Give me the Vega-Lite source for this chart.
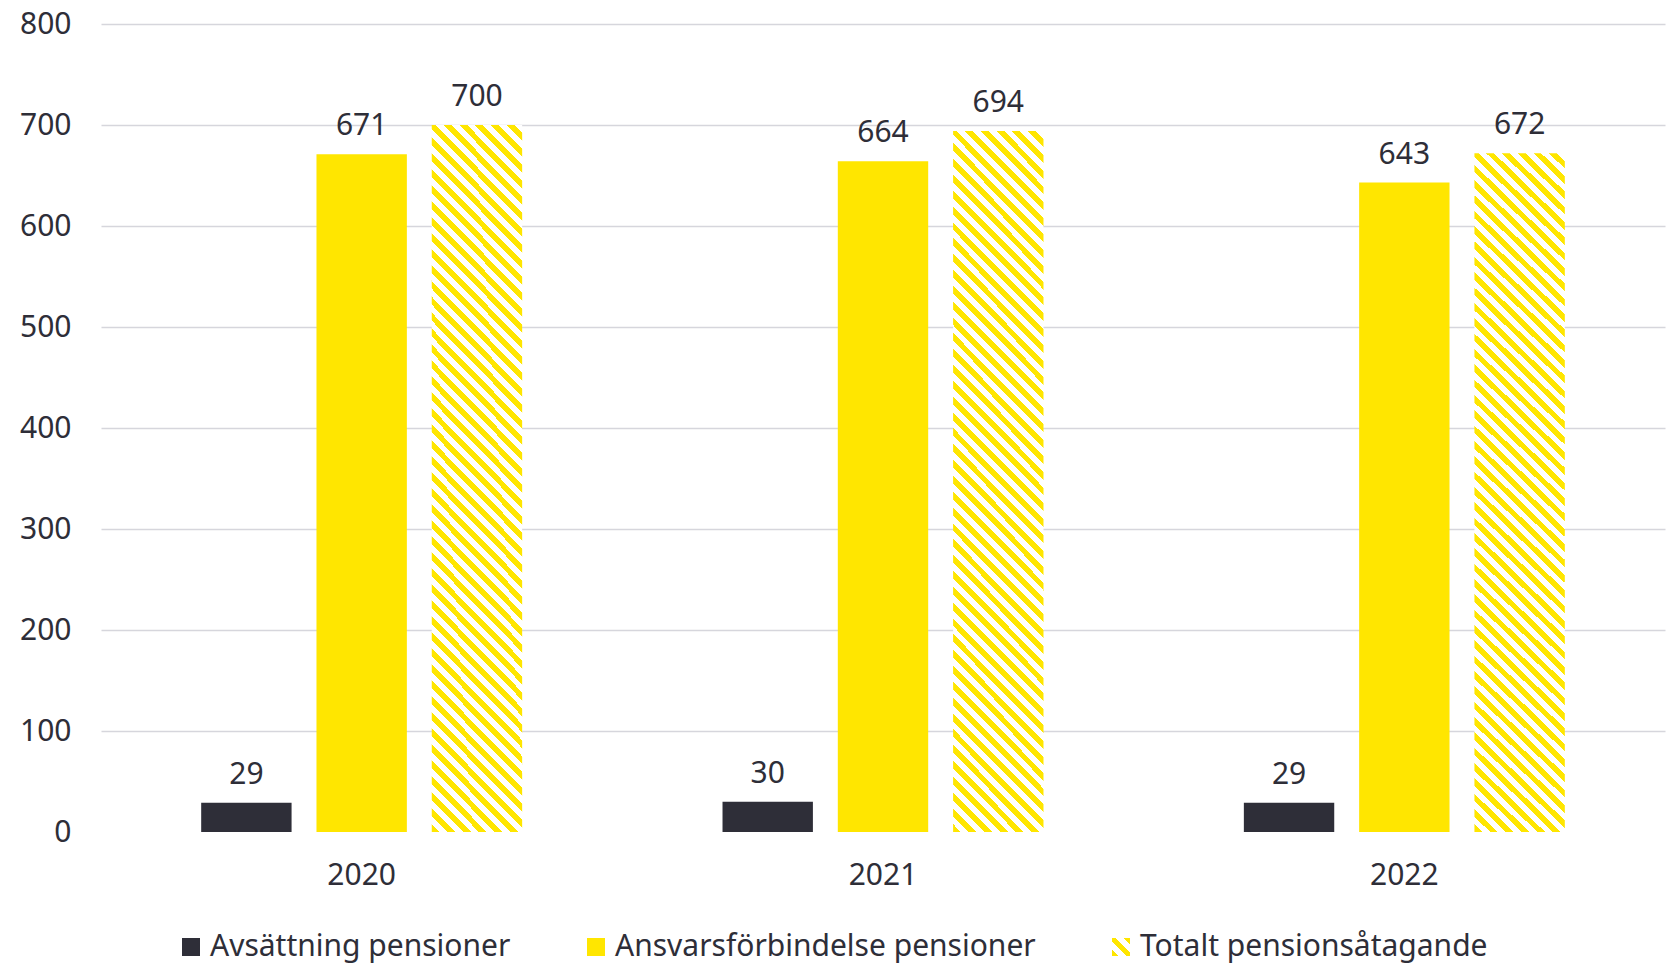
{
  "$schema": "https://vega.github.io/schema/vega-lite/v6.json",
  "width": 1564,
  "height": 808,
  "autosize": "none",
  "padding": {"left": 101, "top": 24, "right": 4, "bottom": 134},
  "background": "white",
  "data": {
    "values": [
      {"year": "2020", "serie": "Avsättning pensioner", "value": 29},
      {"year": "2020", "serie": "Ansvarsförbindelse pensioner", "value": 671},
      {"year": "2020", "serie": "Totalt pensionsåtagande", "value": 700},
      {"year": "2021", "serie": "Avsättning pensioner", "value": 30},
      {"year": "2021", "serie": "Ansvarsförbindelse pensioner", "value": 664},
      {"year": "2021", "serie": "Totalt pensionsåtagande", "value": 694},
      {"year": "2022", "serie": "Avsättning pensioner", "value": 29},
      {"year": "2022", "serie": "Ansvarsförbindelse pensioner", "value": 643},
      {"year": "2022", "serie": "Totalt pensionsåtagande", "value": 672}
    ]
  },
  "encoding": {
    "x": {
      "field": "year",
      "type": "nominal",
      "title": null,
      "scale": {"paddingInner": 0, "paddingOuter": 0},
      "axis": {
        "labelAngle": 0,
        "labelFont": "Noto Sans",
        "labelFontSize": 30,
        "labelColor": "#2e2e38",
        "labelBaseline": "alphabetic",
        "labelPadding": 52,
        "ticks": false,
        "tickSize": 0,
        "domain": false,
        "grid": false
      }
    },
    "xOffset": {
      "field": "serie",
      "type": "nominal",
      "scale": {
        "domain": ["Avsättning pensioner", "Ansvarsförbindelse pensioner", "Totalt pensionsåtagande"],
        "paddingInner": 0.216,
        "paddingOuter": 0.869
      }
    },
    "y": {
      "field": "value",
      "type": "quantitative",
      "title": null,
      "scale": {"domain": [0, 800], "nice": false},
      "axis": {
        "values": [0, 100, 200, 300, 400, 500, 600, 700, 800],
        "labelFont": "Noto Sans",
        "labelFontSize": 30,
        "labelColor": "#2e2e38",
        "labelPadding": 30,
        "ticks": false,
        "tickSize": 0,
        "domain": false,
        "grid": true,
        "gridColor": "#d6d6dc",
        "gridWidth": 1.5,
        "gridOpacity": {"condition": {"test": "datum.value === 0", "value": 0}, "value": 1}
      }
    }
  },
  "layer": [
    {
      "mark": {"type": "bar"},
      "encoding": {
        "color": {
          "condition": {
            "test": "datum.serie === 'Totalt pensionsåtagande'",
            "value": {
              "gradient": "linear",
              "x1": 0, "y1": 1, "x2": 0.1445, "y2": -0.1112,
              "stops": [
                {"offset": 0, "color": "#ffe600"},
                {"offset": 0.01, "color": "#ffe600"}, {"offset": 0.01, "color": "#fff"},
                {"offset": 0.02, "color": "#fff"}, {"offset": 0.02, "color": "#ffe600"},
                {"offset": 0.03, "color": "#ffe600"}, {"offset": 0.03, "color": "#fff"},
                {"offset": 0.04, "color": "#fff"}, {"offset": 0.04, "color": "#ffe600"},
                {"offset": 0.05, "color": "#ffe600"}, {"offset": 0.05, "color": "#fff"},
                {"offset": 0.06, "color": "#fff"}, {"offset": 0.06, "color": "#ffe600"},
                {"offset": 0.07, "color": "#ffe600"}, {"offset": 0.07, "color": "#fff"},
                {"offset": 0.08, "color": "#fff"}, {"offset": 0.08, "color": "#ffe600"},
                {"offset": 0.09, "color": "#ffe600"}, {"offset": 0.09, "color": "#fff"},
                {"offset": 0.10, "color": "#fff"}, {"offset": 0.10, "color": "#ffe600"},
                {"offset": 0.11, "color": "#ffe600"}, {"offset": 0.11, "color": "#fff"},
                {"offset": 0.12, "color": "#fff"}, {"offset": 0.12, "color": "#ffe600"},
                {"offset": 0.13, "color": "#ffe600"}, {"offset": 0.13, "color": "#fff"},
                {"offset": 0.14, "color": "#fff"}, {"offset": 0.14, "color": "#ffe600"},
                {"offset": 0.15, "color": "#ffe600"}, {"offset": 0.15, "color": "#fff"},
                {"offset": 0.16, "color": "#fff"}, {"offset": 0.16, "color": "#ffe600"},
                {"offset": 0.17, "color": "#ffe600"}, {"offset": 0.17, "color": "#fff"},
                {"offset": 0.18, "color": "#fff"}, {"offset": 0.18, "color": "#ffe600"},
                {"offset": 0.19, "color": "#ffe600"}, {"offset": 0.19, "color": "#fff"},
                {"offset": 0.20, "color": "#fff"}, {"offset": 0.20, "color": "#ffe600"},
                {"offset": 0.21, "color": "#ffe600"}, {"offset": 0.21, "color": "#fff"},
                {"offset": 0.22, "color": "#fff"}, {"offset": 0.22, "color": "#ffe600"},
                {"offset": 0.23, "color": "#ffe600"}, {"offset": 0.23, "color": "#fff"},
                {"offset": 0.24, "color": "#fff"}, {"offset": 0.24, "color": "#ffe600"},
                {"offset": 0.25, "color": "#ffe600"}, {"offset": 0.25, "color": "#fff"},
                {"offset": 0.26, "color": "#fff"}, {"offset": 0.26, "color": "#ffe600"},
                {"offset": 0.27, "color": "#ffe600"}, {"offset": 0.27, "color": "#fff"},
                {"offset": 0.28, "color": "#fff"}, {"offset": 0.28, "color": "#ffe600"},
                {"offset": 0.29, "color": "#ffe600"}, {"offset": 0.29, "color": "#fff"},
                {"offset": 0.30, "color": "#fff"}, {"offset": 0.30, "color": "#ffe600"},
                {"offset": 0.31, "color": "#ffe600"}, {"offset": 0.31, "color": "#fff"},
                {"offset": 0.32, "color": "#fff"}, {"offset": 0.32, "color": "#ffe600"},
                {"offset": 0.33, "color": "#ffe600"}, {"offset": 0.33, "color": "#fff"},
                {"offset": 0.34, "color": "#fff"}, {"offset": 0.34, "color": "#ffe600"},
                {"offset": 0.35, "color": "#ffe600"}, {"offset": 0.35, "color": "#fff"},
                {"offset": 0.36, "color": "#fff"}, {"offset": 0.36, "color": "#ffe600"},
                {"offset": 0.37, "color": "#ffe600"}, {"offset": 0.37, "color": "#fff"},
                {"offset": 0.38, "color": "#fff"}, {"offset": 0.38, "color": "#ffe600"},
                {"offset": 0.39, "color": "#ffe600"}, {"offset": 0.39, "color": "#fff"},
                {"offset": 0.40, "color": "#fff"}, {"offset": 0.40, "color": "#ffe600"},
                {"offset": 0.41, "color": "#ffe600"}, {"offset": 0.41, "color": "#fff"},
                {"offset": 0.42, "color": "#fff"}, {"offset": 0.42, "color": "#ffe600"},
                {"offset": 0.43, "color": "#ffe600"}, {"offset": 0.43, "color": "#fff"},
                {"offset": 0.44, "color": "#fff"}, {"offset": 0.44, "color": "#ffe600"},
                {"offset": 0.45, "color": "#ffe600"}, {"offset": 0.45, "color": "#fff"},
                {"offset": 0.46, "color": "#fff"}, {"offset": 0.46, "color": "#ffe600"},
                {"offset": 0.47, "color": "#ffe600"}, {"offset": 0.47, "color": "#fff"},
                {"offset": 0.48, "color": "#fff"}, {"offset": 0.48, "color": "#ffe600"},
                {"offset": 0.49, "color": "#ffe600"}, {"offset": 0.49, "color": "#fff"},
                {"offset": 0.50, "color": "#fff"}, {"offset": 0.50, "color": "#ffe600"},
                {"offset": 0.51, "color": "#ffe600"}, {"offset": 0.51, "color": "#fff"},
                {"offset": 0.52, "color": "#fff"}, {"offset": 0.52, "color": "#ffe600"},
                {"offset": 0.53, "color": "#ffe600"}, {"offset": 0.53, "color": "#fff"},
                {"offset": 0.54, "color": "#fff"}, {"offset": 0.54, "color": "#ffe600"},
                {"offset": 0.55, "color": "#ffe600"}, {"offset": 0.55, "color": "#fff"},
                {"offset": 0.56, "color": "#fff"}, {"offset": 0.56, "color": "#ffe600"},
                {"offset": 0.57, "color": "#ffe600"}, {"offset": 0.57, "color": "#fff"},
                {"offset": 0.58, "color": "#fff"}, {"offset": 0.58, "color": "#ffe600"},
                {"offset": 0.59, "color": "#ffe600"}, {"offset": 0.59, "color": "#fff"},
                {"offset": 0.60, "color": "#fff"}, {"offset": 0.60, "color": "#ffe600"},
                {"offset": 0.61, "color": "#ffe600"}, {"offset": 0.61, "color": "#fff"},
                {"offset": 0.62, "color": "#fff"}, {"offset": 0.62, "color": "#ffe600"},
                {"offset": 0.63, "color": "#ffe600"}, {"offset": 0.63, "color": "#fff"},
                {"offset": 0.64, "color": "#fff"}, {"offset": 0.64, "color": "#ffe600"},
                {"offset": 0.65, "color": "#ffe600"}, {"offset": 0.65, "color": "#fff"},
                {"offset": 0.66, "color": "#fff"}, {"offset": 0.66, "color": "#ffe600"},
                {"offset": 0.67, "color": "#ffe600"}, {"offset": 0.67, "color": "#fff"},
                {"offset": 0.68, "color": "#fff"}, {"offset": 0.68, "color": "#ffe600"},
                {"offset": 0.69, "color": "#ffe600"}, {"offset": 0.69, "color": "#fff"},
                {"offset": 0.70, "color": "#fff"}, {"offset": 0.70, "color": "#ffe600"},
                {"offset": 0.71, "color": "#ffe600"}, {"offset": 0.71, "color": "#fff"},
                {"offset": 0.72, "color": "#fff"}, {"offset": 0.72, "color": "#ffe600"},
                {"offset": 0.73, "color": "#ffe600"}, {"offset": 0.73, "color": "#fff"},
                {"offset": 0.74, "color": "#fff"}, {"offset": 0.74, "color": "#ffe600"},
                {"offset": 0.75, "color": "#ffe600"}, {"offset": 0.75, "color": "#fff"},
                {"offset": 0.76, "color": "#fff"}, {"offset": 0.76, "color": "#ffe600"},
                {"offset": 0.77, "color": "#ffe600"}, {"offset": 0.77, "color": "#fff"},
                {"offset": 0.78, "color": "#fff"}, {"offset": 0.78, "color": "#ffe600"},
                {"offset": 0.79, "color": "#ffe600"}, {"offset": 0.79, "color": "#fff"},
                {"offset": 0.80, "color": "#fff"}, {"offset": 0.80, "color": "#ffe600"},
                {"offset": 0.81, "color": "#ffe600"}, {"offset": 0.81, "color": "#fff"},
                {"offset": 0.82, "color": "#fff"}, {"offset": 0.82, "color": "#ffe600"},
                {"offset": 0.83, "color": "#ffe600"}, {"offset": 0.83, "color": "#fff"},
                {"offset": 0.84, "color": "#fff"}, {"offset": 0.84, "color": "#ffe600"},
                {"offset": 0.85, "color": "#ffe600"}, {"offset": 0.85, "color": "#fff"},
                {"offset": 0.86, "color": "#fff"}, {"offset": 0.86, "color": "#ffe600"},
                {"offset": 0.87, "color": "#ffe600"}, {"offset": 0.87, "color": "#fff"},
                {"offset": 0.88, "color": "#fff"}, {"offset": 0.88, "color": "#ffe600"},
                {"offset": 0.89, "color": "#ffe600"}, {"offset": 0.89, "color": "#fff"},
                {"offset": 0.90, "color": "#fff"}, {"offset": 0.90, "color": "#ffe600"},
                {"offset": 0.91, "color": "#ffe600"}, {"offset": 0.91, "color": "#fff"},
                {"offset": 0.92, "color": "#fff"}, {"offset": 0.92, "color": "#ffe600"},
                {"offset": 0.93, "color": "#ffe600"}, {"offset": 0.93, "color": "#fff"},
                {"offset": 0.94, "color": "#fff"}, {"offset": 0.94, "color": "#ffe600"},
                {"offset": 0.95, "color": "#ffe600"}, {"offset": 0.95, "color": "#fff"},
                {"offset": 0.96, "color": "#fff"}, {"offset": 0.96, "color": "#ffe600"},
                {"offset": 0.97, "color": "#ffe600"}, {"offset": 0.97, "color": "#fff"},
                {"offset": 0.98, "color": "#fff"}, {"offset": 0.98, "color": "#ffe600"},
                {"offset": 0.99, "color": "#ffe600"}, {"offset": 0.99, "color": "#fff"},
                {"offset": 1, "color": "#fff"}
              ]
            }
          },
          "field": "serie",
          "type": "nominal",
          "scale": {
            "domain": ["Avsättning pensioner", "Ansvarsförbindelse pensioner", "Totalt pensionsåtagande"],
            "range": [
              "#2e2e38",
              "#ffe600",
              {"expr": "{gradient: 'linear', x1: 0, y1: 1, x2: 1, y2: 0, stops: [{offset: 0, color: '#ffe600'}, {offset: 0.17, color: '#ffe600'}, {offset: 0.17, color: '#fff'}, {offset: 0.39, color: '#fff'}, {offset: 0.39, color: '#ffe600'}, {offset: 0.61, color: '#ffe600'}, {offset: 0.61, color: '#fff'}, {offset: 0.83, color: '#fff'}, {offset: 0.83, color: '#ffe600'}, {offset: 1, color: '#ffe600'}]}"}
            ]
          },
          "legend": {
            "orient": "none",
            "legendX": 75,
            "legendY": 908,
            "direction": "horizontal",
            "title": null,
            "padding": 0,
            "symbolType": "square",
            "symbolSize": 324,
            "symbolStrokeWidth": 0,
            "labelFont": "Noto Sans",
            "labelFontSize": 30,
            "labelColor": "#2e2e38",
            "labelOffset": 4,
            "labelLimit": 0,
            "columnPadding": 70
          }
        }
      }
    },
    {
      "mark": {
        "type": "text",
        "font": "Noto Sans",
        "fontSize": 30,
        "color": "#2e2e38",
        "baseline": "alphabetic",
        "dy": -19
      },
      "encoding": {
        "text": {"field": "value", "type": "quantitative"}
      }
    }
  ],
  "config": {
    "view": {"stroke": null},
    "font": "Noto Sans"
  }
}
